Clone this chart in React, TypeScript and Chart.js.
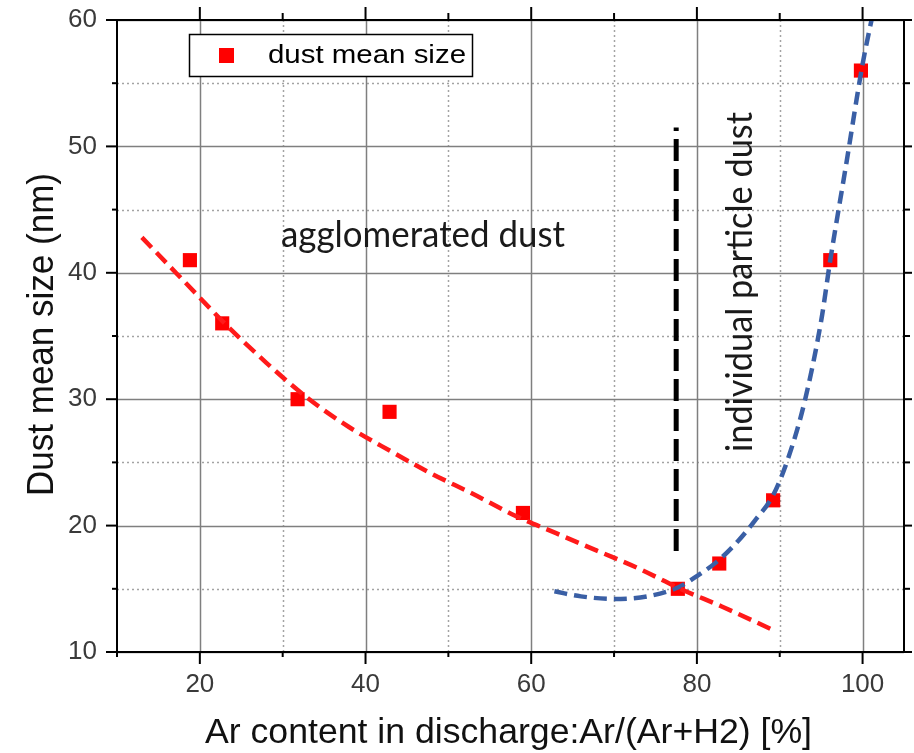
import React, { useEffect, useRef } from 'react';
import { Chart, registerables } from 'chart.js';

Chart.register(...registerables);

// ---- data ----
const sizeX = [18.8, 22.7, 31.8, 42.9, 59.0, 77.7, 82.7, 89.2, 96.1, 99.8];
const sizeY = [41, 36, 30, 29, 21, 15, 17, 22, 41, 56];

const redFitX = [13, 18, 23, 28, 33, 38, 43, 48, 53, 58, 63, 68, 73, 78, 83, 89];
const redFitY = [42.8, 39.4, 36.0, 32.9, 30.1, 27.8, 25.9, 24.1, 22.5, 20.8, 19.4, 18.0, 16.6, 15.0, 13.6, 11.8];

const blueFitX = [62.8, 66, 70, 74, 77.7, 80, 82.7, 85, 87, 89.2, 91, 93, 95, 96.1, 98, 100, 101.4];
const blueFitY = [14.8, 14.4, 14.2, 14.4, 15.1, 16.0, 17.3, 18.8, 20.4, 22.4, 25.3, 29.8, 36.2, 41, 48.5, 56.5, 61];

const dividerX = [77.5, 77.5];
const dividerY = [18, 51.5];

const xMajorTicks = [20, 40, 60, 80, 100];
const xMinorTicks = [30, 50, 70, 90];
const yMajorTicks = [10, 20, 30, 40, 50, 60];
const yMinorTicks = [15, 25, 35, 45, 55];

const X_MIN = 10;
const X_MAX = 105;
const Y_MIN = 10;
const Y_MAX = 60;

const xTitle = 'Ar content in discharge:Ar/(Ar+H2) [%]';
const yTitle = 'Dust mean size (nm)';
const legendLabel = 'dust mean size';
const leftNote = 'agglomerated dust';
const rightNote = 'individual particle dust';

const SANS = '"Liberation Sans", Arial, sans-serif';
const NOTE_FONT = 'Lato, "Open Sans", sans-serif';

function pts(xs: number[], ys: number[]) {
  return xs.map((x, i) => ({ x, y: ys[i] }));
}

function fitText(
  ctx: CanvasRenderingContext2D,
  text: string,
  font: string,
  x: number,
  y: number,
  width: number,
  rotate: boolean,
  color: string
) {
  ctx.save();
  ctx.font = font;
  ctx.fillStyle = color;
  ctx.textAlign = 'left';
  ctx.textBaseline = 'alphabetic';
  const w = ctx.measureText(text).width;
  ctx.translate(x, y);
  if (rotate) ctx.rotate(-Math.PI / 2);
  ctx.scale(width / w, 1);
  ctx.fillText(text, 0, 0);
  ctx.restore();
}

const decorPlugin = {
  id: 'decor',
  beforeDatasetsDraw(chart: any) {
    const { ctx, chartArea: a, scales } = chart;
    const x = scales.x;
    const y = scales.y;
    ctx.save();
    ctx.lineWidth = 1.5;
    // minor dotted grid
    ctx.strokeStyle = '#a3a3a3';
    ctx.setLineDash([2, 3]);
    xMinorTicks.forEach((v) => {
      const p = Math.round(x.getPixelForValue(v)) + 0.5;
      ctx.beginPath();
      ctx.moveTo(p, a.top);
      ctx.lineTo(p, a.bottom);
      ctx.stroke();
    });
    yMinorTicks.forEach((v) => {
      const p = Math.round(y.getPixelForValue(v)) + 0.5;
      ctx.beginPath();
      ctx.moveTo(a.left, p);
      ctx.lineTo(a.right, p);
      ctx.stroke();
    });
    // major solid grid
    ctx.setLineDash([]);
    ctx.strokeStyle = '#7f7f7f';
    xMajorTicks.forEach((v) => {
      const p = Math.round(x.getPixelForValue(v)) + 0.5;
      ctx.beginPath();
      ctx.moveTo(p, a.top);
      ctx.lineTo(p, a.bottom);
      ctx.stroke();
    });
    yMajorTicks.forEach((v) => {
      const p = Math.round(y.getPixelForValue(v)) + 0.5;
      ctx.beginPath();
      ctx.moveTo(a.left, p);
      ctx.lineTo(a.right, p);
      ctx.stroke();
    });
    ctx.restore();
  },
  afterDatasetsDraw(chart: any) {
    const { ctx, chartArea: a, scales } = chart;
    const x = scales.x;
    const y = scales.y;
    ctx.save();
    // frame
    ctx.strokeStyle = '#000';
    ctx.lineWidth = 2;
    ctx.strokeRect(a.left, a.top, a.right - a.left, a.bottom - a.top);
    // tick marks
    const tick = (x1: number, y1: number, x2: number, y2: number) => {
      ctx.beginPath();
      ctx.moveTo(x1, y1);
      ctx.lineTo(x2, y2);
      ctx.stroke();
    };
    ctx.lineWidth = 2;
    xMajorTicks.forEach((v) => {
      const p = x.getPixelForValue(v);
      tick(p, a.bottom, p, a.bottom + 12);
      tick(p, a.top, p, a.top - 13);
    });
    xMinorTicks.forEach((v) => {
      const p = x.getPixelForValue(v);
      tick(p, a.bottom, p, a.bottom + 5);
      tick(p, a.top, p, a.top - 7);
    });
    tick(a.left, a.bottom, a.left, a.bottom + 5);
    yMajorTicks.forEach((v) => {
      const p = y.getPixelForValue(v);
      tick(a.left, p, a.left - 11, p);
      tick(a.right, p, a.right + 8, p);
    });
    yMinorTicks.forEach((v) => {
      const p = y.getPixelForValue(v);
      tick(a.left, p, a.left - 5, p);
      tick(a.right, p, a.right + 6, p);
    });

    // legend
    ctx.fillStyle = '#fff';
    ctx.fillRect(189, 34, 283, 42);
    ctx.strokeStyle = '#000';
    ctx.lineWidth = 1.5;
    ctx.strokeRect(189.5, 34.5, 283, 42);
    ctx.fillStyle = '#ff0000';
    ctx.fillRect(219, 48, 15, 15);
    fitText(ctx, legendLabel, `25px ${SANS}`, 268, 63, 198, false, '#000');

    // annotations
    fitText(ctx, leftNote, `37px ${NOTE_FONT}`, 281, 247, 284, false, '#1a1a1a');
    fitText(ctx, rightNote, `37px ${NOTE_FONT}`, 752, 452, 340, true, '#1a1a1a');

    // axis titles
    fitText(ctx, xTitle, `35px ${SANS}`, 205, 743, 607, false, '#111');
    fitText(ctx, yTitle, `36px ${SANS}`, 53, 496, 323, true, '#111');
    ctx.restore();
  },
};

export default function App() {
  const ref = useRef<HTMLCanvasElement | null>(null);

  useEffect(() => {
    if (!ref.current) return;
    const chart = new Chart(ref.current, {
      type: 'scatter',
      data: {
        datasets: [
          {
            label: 'red fit',
            data: pts(redFitX, redFitY),
            showLine: true,
            borderColor: '#ff1a1a',
            borderWidth: 4.5,
            borderDash: [14, 7],
            pointRadius: 0,
            cubicInterpolationMode: 'monotone',
            fill: false,
            order: 1,
          } as any,
          {
            label: 'blue fit',
            data: pts(blueFitX, blueFitY),
            showLine: true,
            borderColor: '#3a5fa5',
            borderWidth: 4.5,
            borderDash: [13, 7],
            pointRadius: 0,
            cubicInterpolationMode: 'monotone',
            fill: false,
            order: 1,
          } as any,
          {
            label: 'divider',
            data: pts(dividerX, dividerY),
            showLine: true,
            borderColor: '#000',
            borderWidth: 5,
            borderDash: [22, 8],
            pointRadius: 0,
            fill: false,
            order: 1,
          } as any,
          {
            label: legendLabel,
            data: pts(sizeX, sizeY),
            pointStyle: 'rect',
            pointRadius: 10,
            pointBackgroundColor: '#ff0000',
            pointBorderWidth: 0,
            backgroundColor: '#ff0000',
            borderColor: '#ff0000',
            order: 3,
          } as any,
        ],
      },
      options: {
        animation: false,
        responsive: false,
        maintainAspectRatio: false,
        layout: { padding: { top: 20, right: 8, left: 0, bottom: 0 } },
        plugins: {
          legend: { display: false },
          tooltip: { enabled: false },
        },
        scales: {
          x: {
            type: 'linear',
            min: X_MIN,
            max: X_MAX,
            afterBuildTicks: (s: any) => {
              s.ticks = xMajorTicks.map((v) => ({ value: v }));
            },
            afterFit: (s: any) => {
              s.height = 101;
              s.paddingLeft = 0;
              s.paddingRight = 0;
              s.paddingTop = 0;
              s.paddingBottom = 0;
            },
            grid: { display: false, drawTicks: false },
            border: { display: false },
            ticks: {
              autoSkip: false,
              maxRotation: 0,
              padding: 17,
              color: '#3a3a3a',
              font: { family: SANS, size: 26 },
            },
          },
          y: {
            type: 'linear',
            min: Y_MIN,
            max: Y_MAX,
            afterBuildTicks: (s: any) => {
              s.ticks = yMajorTicks.map((v) => ({ value: v }));
            },
            afterFit: (s: any) => {
              s.width = 117;
              s.paddingLeft = 0;
              s.paddingRight = 0;
              s.paddingTop = 0;
              s.paddingBottom = 0;
            },
            grid: { display: false, drawTicks: false },
            border: { display: false },
            ticks: {
              autoSkip: false,
              padding: 20,
              color: '#3a3a3a',
              font: { family: SANS, size: 26 },
            },
          },
        },
      } as any,
      plugins: [decorPlugin],
    });
    return () => chart.destroy();
  }, []);

  return (
    <div style={{ position: 'absolute', left: 0, top: 0, width: 914, height: 753, background: '#fff' }}>
      <canvas ref={ref} width={914} height={753} style={{ display: 'block' }} />
    </div>
  );
}
